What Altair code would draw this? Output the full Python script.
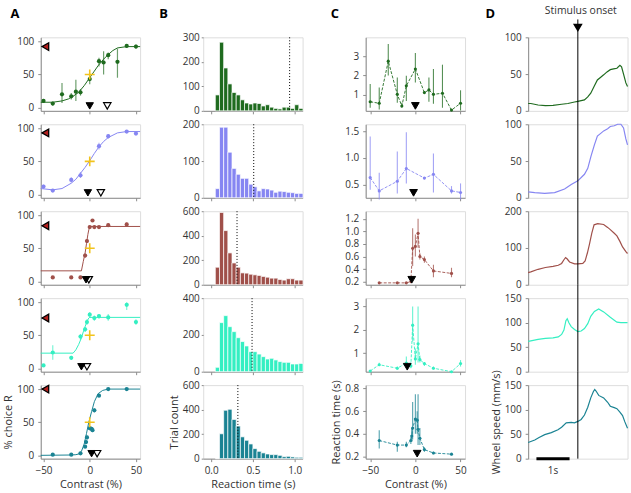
import altair as alt
import pandas as pd

FONT = "Open Sans"
W, H = 100, 74
COLORS = ["#1f6b1f", "#8686f2", "#a0504a", "#34efc2", "#1a8393"]
GOLD = "#f2c31c"
AXIS_GRAY = "#8c8c8c"
TEXT = "#333333"

# ---------------- Panel A: psychometric curves ----------------
A_CONTRAST = [
    [-50, -40, -30, -20, -15, -10, 0, 10, 15, 20, 30, 40, 50],
    [-50, -40, -20, -10, 10, 20, 40, 50],
    [-40, -20, -10, -5, -3, 0, 3, 5, 10, 20, 40],
    [-50, -40, -20, -10, -5, -3, 0, 5, 10, 20, 40, 50],
    [-40, -20, -10, -5, -4, -3, 0, 2, 3, 5, 10, 20, 40],
]
A_CHOICE = [
    [10, 6, 20, 17, 24, 23, 43, 70, 68, 79, 69, 93, 92],
    [12, 6, 22, 29, 73, 88, 95, 92],
    [6, 6, 6, 39, 61, 82, 92, 82, 82, 85, 86],
    [4.5, 24, 16, 48, 59, 70, 81, 76, 79, 77, 96, 70],
    [1, 1, 3, 13, 20, 27, 41, 40, 38, 68, 90, 100, 100],
]
A_LO = [
    [7, 3, 7, 12, 10, 18, 35, 62, 50, 73, 45, 90, 89],
    [9, 4, 18, 25, 68, 84, 93, 90],
    [5, 5, 5, 36, 58, 80, 90, 80, 80, 83, 84],
    [3, 13, 13, 43, 55, 66, 76, 72, 75, 72, 88, 66],
    [0, 0, 2, 11, 17, 24, 38, 37, 35, 65, 88, 99, 99],
]
A_HI = [
    [13, 9, 37, 22, 42, 28, 48, 75, 85, 83, 89, 96, 95],
    [15, 8, 26, 34, 78, 91, 97, 95],
    [8, 8, 8, 42, 64, 85, 94, 85, 84, 88, 89],
    [6, 35, 19, 52, 63, 74, 85, 80, 82, 82, 100, 74],
    [2, 2, 4, 15, 23, 30, 44, 43, 41, 71, 92, 101, 101],
]
A_FIT_X = [
    [-53, -40, -30, -23, -17, -12, -6, 0, 5, 9, 15, 20, 25, 30, 40, 54.5],
    [-53, -40, -30, -20, -15, -10, -5, 0, 5, 10, 15, 20, 30, 40, 54.5],
    [-53, -9, -7, -5, -3.5, -2, -1, 0, 1, 54.5],
    [-53, -18, -15, -12, -9, -7, -5, -3, -1, 0, 54.5],
    [-53, -20, -15, -12, -9, -6, -3.5, -1, 2, 5, 9, 14, 20, 54.5],
]
A_FIT_Y = [
    [8, 8, 10, 13, 18, 23, 33, 45, 55, 63, 73, 80, 86, 90, 92, 92],
    [9, 7, 9, 17, 23, 32, 41, 51, 62, 72, 80, 86, 93, 95, 95],
    [16, 16, 30, 43, 57, 71, 78, 82, 83, 83],
    [23, 23, 28, 36, 46, 55, 63, 71, 76, 77, 77],
    [0, 0.5, 1, 2, 6, 17, 33, 50, 66, 81, 93, 98, 100, 100],
]
A_CROSS_C = [0, 0, 0, 0, 0]
A_CROSS_P = [50, 50, 50, 50, 50]
A_BIAS = [92, 93, 84, 76, 100]          # red left-pointing triangle level
A_TRI_FILLED = [0, -2, -4, -9, 2]       # black triangle contrast
A_TRI_OPEN = [19, 12, -1, -3, 8]        # open triangle contrast

# ---------------- Panel B: reaction-time histograms ----------------
BIN_EDGES = [0.05, 0.10, 0.15, 0.20, 0.25, 0.30, 0.35, 0.40, 0.45, 0.50, 0.55,
             0.60, 0.65, 0.70, 0.75, 0.80, 0.85, 0.90, 0.95, 1.00, 1.05, 1.10]
B_COUNTS = [
    [65, 280, 175, 110, 75, 65, 45, 32, 28, 32, 30, 20, 25, 15, 10, 8, 15, 15, 10, 25, 10],
    [25, 192, 192, 124, 80, 64, 53, 53, 37, 30, 19, 25, 24, 21, 15, 18, 17, 15, 14, 12, 12],
    [143, 590, 442, 260, 178, 143, 97, 95, 86, 81, 76, 68, 62, 54, 54, 43, 38, 49, 49, 38, 38],
    [24, 267, 305, 245, 218, 185, 164, 140, 109, 109, 96, 82, 69, 73, 64, 55, 51, 51, 42, 42, 45],
    [0, 203, 395, 403, 320, 266, 178, 150, 120, 82, 60, 47, 38, 33, 33, 27, 16, 19, 14, 11, 11],
]
B_MEDIAN = [0.94, 0.51, 0.31, 0.49, 0.32]
B_YMAX = [300, 200, 600, 400, 600]
B_YTICKS = [[0, 100, 200, 300], [0, 100, 200], [0, 200, 400, 600], [0, 200, 400], [0, 200, 400, 600]]

# ---------------- Panel C: reaction time vs contrast ----------------
C_CONTRAST = [
    [-50, -40, -30, -20, -15, -10, 0, 10, 15, 20, 30, 40, 50],
    [-50, -40, -20, -10, 10, 20, 40, 50],
    [-40, -20, -10, -5, -3, 0, 3, 5, 10, 20, 40],
    [-50, -40, -20, -10, -5, -3, 0, 3, 5, 10, 20, 40, 50],
    [-40, -20, -10, -5, -4, -3, 0, 2, 3, 5, 10, 20, 40],
]
C_RT = [
    [0.65, 0.57, 2.74, 1.03, 0.43, 1.47, 2.34, 1.12, 1.26, 1.03, 1.09, 0.22, 0.57],
    [0.63, 0.38, 0.56, 0.80, 0.62, 0.69, 0.38, 0.35],
    [0.18, 0.18, 0.18, 0.20, 0.73, 0.76, 0.97, 0.60, 0.55, 0.37, 0.33],
    [0.23, 0.50, 0.35, 0.57, 0.45, 2.20, 0.75, 1.40, 0.72, 0.55, 0.35, 0.20, 0.55],
    [0.34, 0.30, 0.30, 0.34, 0.38, 0.45, 0.53, 0.52, 0.44, 0.36, 0.26, 0.23, 0.22],
]
C_LO = [
    [0.34, 0.25, 2.0, 0.60, 0.34, 0.69, 1.64, 1.05, 0.65, 0.55, 0.34, 0.20, 0.20],
    [0.40, 0.22, 0.33, 0.52, 0.60, 0.35, 0.33, 0.22],
    [0.17, 0.17, 0.17, 0.18, 0.45, 0.60, 0.74, 0.55, 0.50, 0.27, 0.27],
    [0.20, 0.45, 0.28, 0.40, 0.35, 1.50, 0.50, 0.60, 0.60, 0.45, 0.30, 0.18, 0.42],
    [0.27, 0.24, 0.28, 0.31, 0.33, 0.35, 0.40, 0.40, 0.30, 0.30, 0.24, 0.22, 0.21],
]
C_HI = [
    [1.56, 1.38, 3.62, 1.90, 0.60, 1.99, 3.16, 1.20, 1.90, 2.34, 2.56, 0.26, 1.24],
    [1.40, 0.72, 1.12, 1.48, 0.64, 1.08, 0.47, 0.52],
    [0.19, 0.19, 0.19, 0.22, 1.05, 0.95, 1.20, 0.65, 0.60, 0.47, 0.42],
    [0.26, 0.58, 0.42, 0.85, 0.60, 3.00, 1.20, 3.00, 0.90, 0.62, 0.42, 0.23, 0.70],
    [0.43, 0.33, 0.33, 0.37, 0.45, 0.68, 0.75, 0.60, 0.75, 0.45, 0.28, 0.24, 0.23],
]
C_YDOM = [[0.18, 3.97], [0.25, 1.63], [0.15, 1.32], [0.2, 3.36], [0.18, 0.83]]
C_YTICKS = [[1, 2, 3], [0.5, 1, 1.5], [0.2, 0.4, 0.6, 0.8, 1, 1.2], [1, 2, 3], [0.2, 0.4, 0.6, 0.8]]

# ---------------- Panel D: wheel speed ----------------
D_TIME = [
    [-1.5, -1.42, -1.2, -0.98, -0.75, -0.49, -0.3, -0.1, 0, 0.1, 0.2, 0.3, 0.39, 0.49, 0.59,
     0.7, 0.78, 0.88, 0.98, 1.08, 1.18, 1.27, 1.32, 1.38, 1.45, 1.5],
    [-1.5, -1.3, -1.0, -0.7, -0.4, -0.2, 0, 0.2, 0.3, 0.4, 0.5, 0.59, 0.7, 0.78, 0.9, 0.98,
     1.1, 1.2, 1.3, 1.38, 1.45, 1.5],
    [-1.5, -1.42, -1.2, -0.98, -0.75, -0.59, -0.49, -0.42, -0.37, -0.32, -0.25, -0.1, 0, 0.15,
     0.22, 0.29, 0.35, 0.42, 0.49, 0.6, 0.78, 0.9, 0.98, 1.1, 1.18, 1.27, 1.35, 1.45, 1.5],
    [-1.5, -1.42, -1.2, -0.98, -0.75, -0.59, -0.49, -0.42, -0.36, -0.32, -0.27, -0.2, -0.1, 0,
     0.1, 0.2, 0.3, 0.39, 0.5, 0.63, 0.78, 0.98, 1.18, 1.3, 1.45, 1.5],
    [-1.5, -1.42, -1.3, -1.17, -1.0, -0.8, -0.6, -0.49, -0.35, -0.2, -0.1, 0, 0.1, 0.2, 0.3,
     0.39, 0.47, 0.51, 0.55, 0.63, 0.78, 0.9, 0.98, 1.1, 1.18, 1.27, 1.35, 1.42, 1.5],
]
D_SPEED = [
    [10, 10, 8, 7, 7.5, 9, 10, 12, 13, 14, 15, 19, 24, 33, 42, 46, 49, 53, 56, 57, 58, 62, 60,
     50, 38, 33],
    [8, 7, 6, 7, 12, 18, 23, 32, 40, 57, 72, 84, 88, 91, 94, 97, 98, 100, 100, 95, 80, 72],
    [33, 35, 42, 47, 50, 53, 58, 68, 74, 70, 62, 57, 57, 58, 65, 87, 110, 140, 163, 166, 164,
     156, 150, 140, 133, 118, 103, 90, 85],
    [62, 63, 66, 68, 69, 71, 76, 85, 104, 108, 100, 92, 86, 82, 83, 88, 98, 113, 123, 128, 122,
     111, 101, 100, 100, 100],
    [33, 35, 38, 43, 49, 53, 59, 64, 73, 74, 73, 76, 80, 89, 105, 124, 137, 141, 138, 129, 124,
     115, 107, 104, 102, 95, 88, 75, 62],
]
D_YMAX = [100, 100, 200, 150, 150]
D_YTICKS = [[0, 50, 100], [0, 50, 100], [0, 100, 200], [0, 50, 100, 150], [0, 50, 100, 150]]
ONSET = [0]
SCALEBAR = {"t0": [-1.25], "t1": [-0.25], "tm": [-0.75], "lab": ["1s"]}

PANEL_LETTERS = ["A", "B", "C", "D"]
ONSET_LABEL = ["Stimulus onset"]


def axis(values, labels=True, title=None, domain=True, tick_size=3, label_pad=4):
    kw = dict(values=values, labels=labels, grid=False, domain=domain,
              domainColor=AXIS_GRAY, domainWidth=1, ticks=True, tickColor=AXIS_GRAY,
              tickSize=tick_size, labelFont=FONT, labelFontSize=10, labelColor=TEXT,
              labelPadding=label_pad, labelOverlap=False, labelFlush=False,
              titleFont=FONT, titleFontSize=11, titleFontWeight="normal",
              titleColor=TEXT, titlePadding=3)
    if title is not None:
        kw["title"] = title
    else:
        kw["title"] = None
    return alt.Axis(**kw)


def letter(i, dx):
    df = pd.DataFrame({"t": [PANEL_LETTERS[i]]})
    return alt.Chart(df).mark_text(font=FONT, fontSize=13, fontWeight="bold",
                                   align="center", baseline="middle", color="black"
                                   ).encode(text="t:N", x=alt.value(dx), y=alt.value(-23.5))


def panel_A(i):
    color = COLORS[i]
    last = i == 4
    xs = alt.Scale(domain=[-53, 54.5], nice=False, zero=False)
    ys = alt.Scale(domain=[-5, 106], nice=False, zero=False)
    xax = axis([-50, 0, 50], labels=last, title="Contrast (%)" if last else None)
    yax = axis([0, 50, 100], title="% choice R" if last else None)

    def X(f):
        return alt.X(f, type="quantitative", scale=xs, axis=xax)

    def Y(f):
        return alt.Y(f, type="quantitative", scale=ys, axis=yax)

    pts = pd.DataFrame({"c": A_CONTRAST[i], "p": A_CHOICE[i], "lo": A_LO[i], "hi": A_HI[i]})
    fit = pd.DataFrame({"c": A_FIT_X[i], "p": A_FIT_Y[i]})
    cross = pd.DataFrame({"c": [A_CROSS_C[i]], "p": [A_CROSS_P[i]]})
    bias = pd.DataFrame({"c": [-48], "p": [A_BIAS[i]]})
    tri_f = pd.DataFrame({"c": [A_TRI_FILLED[i]]})
    tri_o = pd.DataFrame({"c": [A_TRI_OPEN[i]]})
    layers = [
        alt.Chart(fit).mark_line(color=color, strokeWidth=1).encode(X("c"), Y("p")),
        alt.Chart(pts).mark_rule(color=color, strokeWidth=1.2, opacity=0.65).encode(
            X("c"), Y("lo"), alt.Y2("hi")),
        alt.Chart(pts).mark_circle(color=color, size=18, opacity=1).encode(X("c"), Y("p")),
        alt.Chart(cross).mark_point(shape="M-1,0L1,0M0,-1L0,1", size=100, filled=False,
                                    color=GOLD, strokeWidth=1.6, opacity=1).encode(X("c"), Y("p")),
        alt.Chart(bias).mark_point(shape="triangle-left", size=60, filled=True, fill="#b3201e",
                                   stroke="black", strokeWidth=1.3, opacity=1).encode(X("c"), Y("p")),
        alt.Chart(tri_o).mark_point(shape="triangle-down", size=55, filled=True, fill="white",
                                    stroke="black", strokeWidth=1.2, opacity=1).encode(
            X("c"), y=alt.value(H - 5)),
        alt.Chart(tri_f).mark_point(shape="triangle-down", size=55, filled=True, fill="black",
                                    stroke="black", strokeWidth=1, opacity=1).encode(
            X("c"), y=alt.value(H - 5)),
    ]
    if i == 0:
        layers.append(letter(0, -26))
    return alt.layer(*layers).properties(width=W, height=H)


def panel_B(i):
    color = COLORS[i]
    last = i == 4
    xs = alt.Scale(domain=[-0.095, 1.095], nice=False, zero=False)
    ys = alt.Scale(domain=[0, B_YMAX[i]], nice=False)
    xax = axis([0, 0.5, 1], labels=last, title="Reaction time (s)" if last else None)
    yax = axis(B_YTICKS[i], title="Trial count" if last else None, domain=False,
               tick_size=2, label_pad=2)
    df = pd.DataFrame({"s": BIN_EDGES[:-1], "e": BIN_EDGES[1:], "n": B_COUNTS[i]})
    med = pd.DataFrame({"m": [B_MEDIAN[i]]})
    layers = [
        alt.Chart(df).mark_rect(color=color, stroke="white", strokeWidth=0.7).encode(
            x=alt.X("s", type="quantitative", scale=xs, axis=xax), x2="e",
            y=alt.Y("n", type="quantitative", scale=ys, axis=yax), y2=alt.datum(0)),
        alt.Chart(med).mark_rule(color="black", strokeWidth=1, strokeDash=[1, 2]).encode(
            x=alt.X("m", type="quantitative", scale=xs, axis=xax),
            y=alt.value(0), y2=alt.value(H)),
    ]
    if i == 0:
        layers.append(letter(1, -40))
    return alt.layer(*layers).properties(width=W, height=H)


def panel_C(i):
    color = COLORS[i]
    last = i == 4
    xs = alt.Scale(domain=[-55, 55], nice=False, zero=False)
    ys = alt.Scale(domain=C_YDOM[i], nice=False, zero=False)
    xax = axis([-50, 0, 50], labels=last, title="Contrast (%)" if last else None)
    yax = axis(C_YTICKS[i], title="Reaction time (s)" if last else None)

    def X(f):
        return alt.X(f, type="quantitative", scale=xs, axis=xax)

    def Y(f):
        return alt.Y(f, type="quantitative", scale=ys, axis=yax)

    df = pd.DataFrame({"c": C_CONTRAST[i], "rt": C_RT[i], "lo": C_LO[i], "hi": C_HI[i]})
    tri = pd.DataFrame({"c": [A_TRI_FILLED[i]]})
    layers = [
        alt.Chart(df).mark_line(color=color, strokeWidth=0.9, strokeDash=[3, 1.5]).encode(
            X("c"), Y("rt")),
        alt.Chart(df).mark_rule(color=color, strokeWidth=1.1, opacity=0.75).encode(
            X("c"), Y("lo"), alt.Y2("hi")),
        alt.Chart(df).mark_circle(color=color, size=10, opacity=1).encode(X("c"), Y("rt")),
        alt.Chart(tri).mark_point(shape="triangle-down", size=60, filled=True, fill="black",
                                  stroke="black", strokeWidth=1, opacity=1).encode(
            X("c"), y=alt.value(H - 5)),
    ]
    if i == 0:
        layers.append(letter(2, -31))
    return alt.layer(*layers).properties(width=W, height=H)


def panel_D(i):
    color = COLORS[i]
    last = i == 4
    xs = alt.Scale(domain=[-1.5, 1.5], nice=False, zero=False)
    ys = alt.Scale(domain=[0, D_YMAX[i]], nice=False)
    yax = axis(D_YTICKS[i], title="Wheel speed (mm/s)" if last else None)

    def X(f):
        return alt.X(f, type="quantitative", scale=xs, axis=None)

    df = pd.DataFrame({"t": D_TIME[i], "v": D_SPEED[i]})
    onset = pd.DataFrame({"t": ONSET})
    layers = [
        alt.Chart(df).mark_line(color=color, strokeWidth=1.2).encode(
            X("t"), alt.Y("v", type="quantitative", scale=ys, axis=yax)),
        alt.Chart(onset).mark_rule(color="black", strokeWidth=1).encode(
            X("t"), y=alt.value(-18 if i == 0 else -13.5), y2=alt.value(H)),
    ]
    if i == 0:
        lab = pd.DataFrame({"t": ONSET, "lab": ONSET_LABEL})
        layers.append(alt.Chart(lab).mark_point(shape="triangle-down", size=40, filled=True,
                                                fill="black", stroke="black", opacity=1).encode(
            X("t"), y=alt.value(-10)))
        layers.append(alt.Chart(lab).mark_text(font=FONT, fontSize=10.5, color=TEXT, dx=3,
                                               align="center", baseline="middle").encode(
            X("t"), y=alt.value(-26), text="lab:N"))
        layers.append(letter(3, -38))
    if last:
        sb = pd.DataFrame(SCALEBAR)
        layers.append(alt.Chart(sb).mark_rule(color="black", strokeWidth=3).encode(
            X("t0"), x2="t1", y=alt.value(H)))
        layers.append(alt.Chart(sb).mark_text(font=FONT, fontSize=10, color=TEXT,
                                              align="center", baseline="middle").encode(
            X("tm"), y=alt.value(H + 12), text="lab:N"))
    return alt.layer(*layers).properties(width=W, height=H)


cells = []
for r in range(5):
    cells += [panel_A(r), panel_B(r), panel_C(r), panel_D(r)]

chart = alt.concat(*cells, columns=4, spacing={"row": 13.5, "column": 63.5},
                   bounds="flush").properties(
    padding={"left": 2, "top": 4, "right": 0, "bottom": 0}
).configure_view(stroke=None).configure(font=FONT, background="white")

chart.save("out.html", embed_options={"renderer": "svg", "actions": False})
